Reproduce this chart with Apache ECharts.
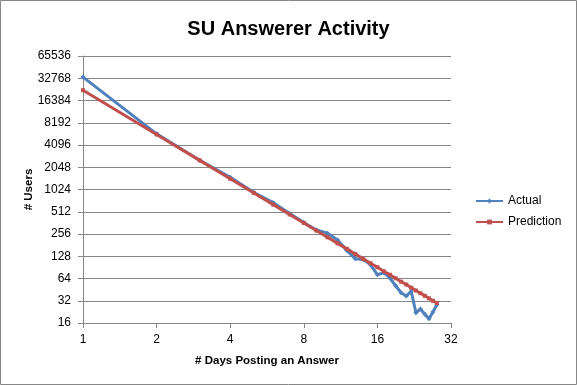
<!DOCTYPE html>
<html>
<head>
<meta charset="utf-8">
<script src="https://cdn.jsdelivr.net/npm/echarts@6/dist/echarts.min.js"></script>
<style>
html,body{margin:0;padding:0;background:#fff;}
#chart{width:577px;height:385px;}
</style>
</head>
<body>
<div id="chart"></div>
<script>
const days = [1,2,3,4,5,6,7,8,9,10,11,12,13,14,15,16,17,18,19,20,21,22,23,24,25,26,27,28];
const actual = [34000,5800,2550,1500,930,680,485,365,290,263,213,153,118,116,98,72,77,65,51,41,37,43,22,24.7,21,18.2,22.5,28.3];
const prediction = [22600,5690,2539,1432,919,639,470,361,285,231,191,161,137,118,103,91,80,72,64.5,58,53,48,44,40.5,37.3,34.5,32,29.8];
const xTicks = [1,2,4,8,16,32];
const yTicks = [16,32,64,128,256,512,1024,2048,4096,8192,16384,32768,65536];

const FONT = 'Liberation Sans';
const GRID = '#868686';

const chart = echarts.init(document.getElementById('chart'), null, {renderer:'canvas'});
const pairs = (ys) => days.map((d,i) => [d, ys[i]]);

chart.setOption({
  animation: false,
  backgroundColor: '#fff',
  title: {
    text: 'SU Answerer Activity',
    left: 'center',
    top: 19,
    padding: 0,
    textStyle: {fontFamily: FONT, fontWeight: 'bold', fontSize: 20, color: '#000'}
  },
  graphic: [{
    type: 'rect', silent: true,
    shape: {x: 0.5, y: 0.5, width: 576, height: 384},
    style: {fill: 'none', stroke: GRID, lineWidth: 1}
  }],
  legend: {
    orient: 'vertical',
    left: 475,
    top: 195,
    itemWidth: 27,
    itemHeight: 6,
    itemGap: 9,
    padding: 0,
    textStyle: {fontFamily: FONT, fontSize: 12, color: '#000'},
    data: ['Actual', 'Prediction']
  },
  grid: {left: 83, right: 126, top: 56, bottom: 62, containLabel: false},
  xAxis: {
    type: 'log', logBase: 2,
    min: xTicks[0], max: xTicks[xTicks.length-1],
    interval: 1, splitNumber: 5,
    name: '# Days Posting an Answer',
    nameLocation: 'middle', nameGap: 32, nameMoveOverlap: false,
    nameTextStyle: {fontFamily: FONT, fontWeight: 'bold', fontSize: 11.5, color: '#000'},
    axisLine: {show: true, lineStyle: {color: GRID, width: 1}},
    axisTick: {show: true, length: 5, inside: false, lineStyle: {color: GRID}},
    axisLabel: {margin: 11, fontFamily: FONT, fontSize: 12, color: '#000',
      formatter: v => String(Math.round(v))},
    splitLine: {show: false},
    minorTick: {show: false}
  },
  yAxis: {
    type: 'log', logBase: 2,
    min: yTicks[0], max: yTicks[yTicks.length-1],
    interval: 1, splitNumber: 12,
    name: '# Users',
    nameLocation: 'middle', nameGap: 48, nameRotate: 90, nameMoveOverlap: false,
    nameTextStyle: {fontFamily: FONT, fontWeight: 'bold', fontSize: 11.5, color: '#000'},
    axisLine: {show: true, lineStyle: {color: GRID, width: 1}},
    axisTick: {show: true, length: 5, inside: false, lineStyle: {color: GRID}},
    axisLabel: {margin: 12, fontFamily: FONT, fontSize: 12, color: '#000',
      formatter: v => String(Math.round(v))},
    splitLine: {show: true, lineStyle: {color: GRID, width: 1}}
  },
  series: [
    {
      name: 'Actual', type: 'line',
      data: pairs(actual),
      symbol: 'diamond', symbolSize: 5, showAllSymbol: true,
      lineStyle: {color: '#4F81BD', width: 3},
      itemStyle: {color: '#4F81BD'},
      z: 2
    },
    {
      name: 'Prediction', type: 'line',
      data: pairs(prediction),
      symbol: 'rect', symbolSize: 4, showAllSymbol: true,
      lineStyle: {color: '#C0504D', width: 3},
      itemStyle: {color: '#C0504D'},
      z: 3
    }
  ]
});
</script>
</body>
</html>
